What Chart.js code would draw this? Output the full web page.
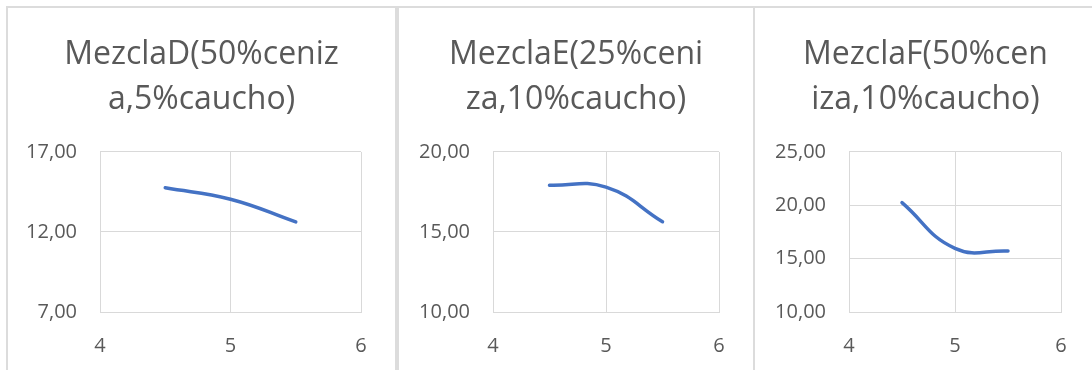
<!DOCTYPE html>
<html>
<head>
<meta charset="utf-8">
<script src="https://cdn.jsdelivr.net/npm/chart.js@4.4.1/dist/chart.umd.min.js"></script>
<style>
  html, body { margin: 0; padding: 0; background: #ffffff; }
  body { width: 1092px; height: 370px; position: relative; overflow: hidden; }
  .frame { position: absolute; box-sizing: border-box; border: 2px solid #dcdcdc; border-bottom: none; }
  .box { position: absolute; }
</style>
</head>
<body>
<div class="frame" style="left:6px;top:6px;width:391px;height:370px;"></div>
<div class="frame" style="left:397px;top:6px;width:358px;height:370px;"></div>
<div class="frame" style="left:753px;top:6px;width:350px;height:370px;"></div>

<div class="box" style="left:7px;top:7px;width:389px;height:363px;"><canvas id="chartD"></canvas></div>
<div class="box" style="left:398px;top:7px;width:356px;height:363px;"><canvas id="chartE"></canvas></div>
<div class="box" style="left:754px;top:7px;width:343px;height:363px;"><canvas id="chartF"></canvas></div>

<script>
// Shared x positions (contenido de caucho, %)
const xValues = [4.5, 5, 5.5];
const xTicks = [4, 5, 6];

// Mezcla D
const titleD = ['MezclaD(50%ceniz', 'a,5%caucho)'];
const valuesD = [14.76, 14.05, 12.63];
const yTicksD = [7, 12, 17];

// Mezcla E
const titleE = ['MezclaE(25%ceni', 'za,10%caucho)'];
const valuesE = [17.92, 17.80, 15.64];
const yTicksE = [10, 15, 20];

// Mezcla F
const titleF = ['MezclaF(50%cen', 'iza,10%caucho)'];
const valuesF = [20.25, 15.97, 15.72];
const yTicksF = [10, 15, 20, 25];

const TEXT = '#595959';
const GRID = '#d9d9d9';
const LINE = '#4472c4';
const FAMILY = "'Open Sans', 'Noto Sans', sans-serif";

// Keep the title centred on the whole canvas, ignoring the right padding
const centreTitle = {
  id: 'centreTitle',
  afterLayout(chart) {
    const t = chart.titleBlock;
    if (t) { t.left = 0; t.right = chart.width; t.width = chart.width; }
  }
};

function makeChart(id, title, values, yTicks, yWidth, padRight) {
  const pts = xValues.map((x, i) => ({ x: x, y: values[i] }));
  return new Chart(document.getElementById(id), {
    type: 'line',
    data: {
      datasets: [{
        data: pts,
        borderColor: LINE,
        borderWidth: 3.5,
        borderCapStyle: 'round',
        pointRadius: 0,
        tension: 0.45,
        fill: false
      }]
    },
    plugins: [centreTitle],
    options: {
      responsive: true,
      maintainAspectRatio: false,
      animation: false,
      devicePixelRatio: 1,
      layout: { padding: { left: 0, right: padRight, top: 0, bottom: 0 } },
      plugins: {
        legend: { display: false },
        tooltip: { enabled: false },
        title: {
          display: true,
          text: title,
          color: TEXT,
          font: { family: FAMILY, size: 32, weight: 'normal', lineHeight: 1.406 },
          padding: { top: 25, bottom: 30 }
        }
      },
      scales: {
        x: {
          type: 'linear',
          min: xTicks[0],
          max: xTicks[xTicks.length - 1],
          afterBuildTicks: (s) => { s.ticks = xTicks.map(v => ({ value: v })); },
          afterFit: (s) => { s.height = 58; },
          grid: { color: GRID, lineWidth: 1, drawTicks: false },
          border: { color: GRID, width: 1 },
          ticks: {
            color: TEXT,
            padding: 22,
            maxRotation: 0,
            font: { family: FAMILY, size: 20 },
            callback: (v) => String(v)
          }
        },
        y: {
          type: 'linear',
          min: yTicks[0],
          max: yTicks[yTicks.length - 1],
          afterBuildTicks: (s) => { s.ticks = yTicks.map(v => ({ value: v })); },
          afterFit: (s) => { s.width = yWidth; },
          grid: { color: GRID, lineWidth: 1, drawTicks: false },
          border: { color: GRID, width: 1 },
          ticks: {
            color: TEXT,
            padding: 23,
            font: { family: FAMILY, size: 20 },
            callback: (v) => Number(v).toFixed(2).replace('.', ',')
          }
        }
      }
    }
  });
}

makeChart('chartD', titleD, valuesD, yTicksD, 93, 35);
makeChart('chartE', titleE, valuesE, yTicksE, 95, 35);
makeChart('chartF', titleF, valuesF, yTicksF, 95, 36);
</script>
</body>
</html>
